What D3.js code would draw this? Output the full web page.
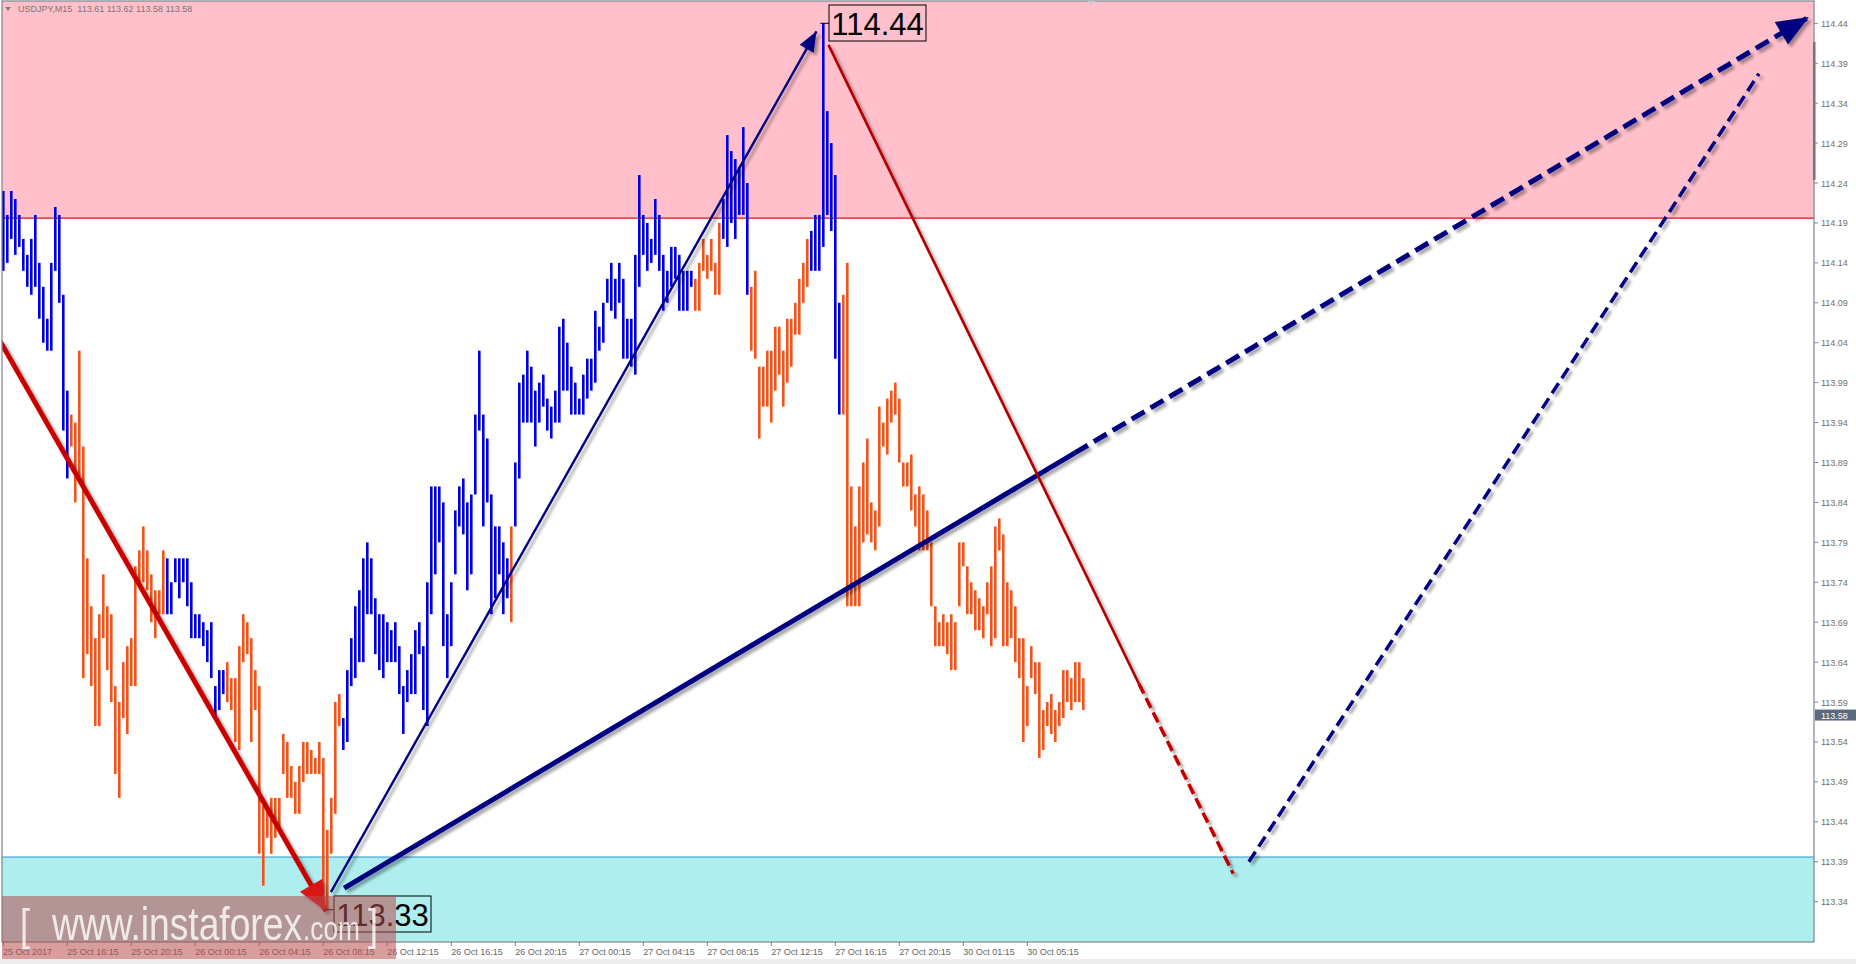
<!DOCTYPE html>
<html><head><meta charset="utf-8">
<script src="https://cdn.jsdelivr.net/npm/d3@7/dist/d3.min.js"></script>
<style>
html,body{margin:0;padding:0;background:#fff;overflow:hidden}
text{font-family:"Liberation Sans",Arial,sans-serif}
</style></head>
<body>
<svg id="c" width="1856" height="964"></svg>
<script>
// ---------- DATA ----------
const symbolTitle = "USDJPY,M15  113.61 113.62 113.58 113.58";
const highs = [
114.23,114.20,114.23,114.22,114.20,114.17,114.15,114.17,114.20,114.14,
114.11,114.07,114.14,114.21,114.20,114.10,113.98,113.95,113.94,114.03,
113.91,113.77,113.71,113.67,113.70,113.75,113.71,113.70,113.61,113.59,
113.64,113.66,113.67,113.76,113.78,113.81,113.78,113.75,113.73,113.73,
113.78,113.77,113.74,113.77,113.77,113.77,113.77,113.74,113.70,113.70,
113.69,113.68,113.69,113.61,113.63,113.63,113.64,113.62,113.62,113.66,
113.70,113.69,113.67,113.63,113.61,113.46,113.46,113.47,113.47,113.47,
113.55,113.54,113.51,113.49,113.51,113.54,113.54,113.53,113.52,113.54,
113.52,113.43,113.47,113.59,113.60,113.57,113.63,113.67,113.71,113.73,
113.77,113.79,113.77,113.72,113.70,113.70,113.69,113.68,113.69,113.66,
113.61,113.63,113.65,113.68,113.69,113.66,113.74,113.86,113.86,113.86,
113.84,113.70,113.74,113.83,113.86,113.87,113.84,113.85,113.95,114.03,
113.95,113.92,113.85,113.81,113.81,113.79,113.77,113.81,113.89,113.99,
114.00,114.03,114.01,113.98,113.99,114.00,113.97,113.96,113.98,114.06,
114.07,114.04,114.01,113.99,113.97,114.00,114.02,114.02,114.08,114.06,
114.09,114.12,114.14,114.12,114.14,114.12,114.07,114.07,114.15,114.25,
114.20,114.19,114.17,114.22,114.20,114.15,114.13,114.16,114.16,114.15,
114.13,114.13,114.13,114.12,114.14,114.17,114.15,114.17,114.14,114.19,
114.22,114.30,114.28,114.27,114.26,114.31,114.24,114.11,114.13,114.01,
114.01,114.03,114.03,114.06,114.06,114.03,114.07,114.07,114.09,114.12,
114.14,114.17,114.18,114.20,114.20,114.44,114.33,114.29,114.25,114.09,
114.10,114.14,113.86,113.81,113.86,113.89,113.92,113.84,113.83,113.96,
113.94,113.97,113.98,113.99,113.97,113.89,113.89,113.90,113.85,113.86,
113.85,113.83,113.79,113.71,113.69,113.70,113.69,113.70,113.69,113.79,
113.79,113.76,113.74,113.73,113.72,113.71,113.74,113.76,113.81,113.82,
113.80,113.74,113.73,113.71,113.67,113.67,113.61,113.66,113.64,113.64,
113.58,113.59,113.60,113.58,113.59,113.63,113.63,113.62,113.64,113.64,113.62];
const lows = [
114.13,114.14,114.17,114.15,114.16,114.13,114.11,114.10,114.11,114.07,
114.04,114.03,114.03,114.13,114.09,113.93,113.87,113.91,113.84,113.87,
113.62,113.65,113.61,113.56,113.56,113.67,113.63,113.59,113.50,113.47,
113.57,113.55,113.61,113.61,113.74,113.74,113.73,113.69,113.67,113.70,
113.70,113.70,113.70,113.74,113.72,113.74,113.71,113.67,113.67,113.67,
113.66,113.64,113.62,113.57,113.58,113.60,113.59,113.58,113.54,113.53,
113.64,113.65,113.54,113.58,113.40,113.36,113.42,113.40,113.42,113.43,
113.50,113.47,113.47,113.45,113.45,113.49,113.50,113.50,113.50,113.50,
113.35,113.33,113.40,113.45,113.56,113.53,113.54,113.61,113.62,113.64,
113.64,113.70,113.70,113.65,113.63,113.62,113.64,113.64,113.64,113.60,
113.55,113.59,113.60,113.60,113.65,113.58,113.56,113.70,113.75,113.79,
113.66,113.62,113.66,113.75,113.81,113.80,113.73,113.75,113.85,113.93,
113.81,113.84,113.70,113.72,113.75,113.70,113.72,113.69,113.81,113.87,
113.94,113.94,113.94,113.91,113.94,113.96,113.93,113.92,113.94,113.94,
113.98,113.98,113.95,113.95,113.95,113.95,113.97,113.98,113.99,114.03,
114.04,114.09,114.08,114.07,114.09,114.02,114.02,114.01,114.00,114.11,
114.15,114.13,114.14,114.15,114.13,114.08,114.09,114.11,114.12,114.08,
114.08,114.08,114.11,114.08,114.08,114.13,114.12,114.13,114.10,114.10,
114.17,114.16,114.19,114.17,114.20,114.20,114.10,114.03,114.02,113.92,
113.96,113.96,113.94,113.98,114.00,113.96,113.99,114.01,114.05,114.05,
114.09,114.11,114.13,114.13,114.13,114.16,114.20,114.18,114.02,113.95,
113.95,113.71,113.71,113.71,113.71,113.79,113.80,113.79,113.78,113.81,
113.91,113.90,113.94,113.95,113.89,113.86,113.86,113.83,113.81,113.78,
113.78,113.78,113.71,113.66,113.66,113.66,113.65,113.63,113.63,113.71,
113.76,113.70,113.70,113.68,113.68,113.67,113.70,113.66,113.67,113.78,
113.66,113.66,113.67,113.64,113.62,113.54,113.56,113.62,113.60,113.52,
113.53,113.56,113.55,113.54,113.56,113.57,113.59,113.58,113.59,113.59,113.58];
// colour runs: [first bar, last bar, kind]
const colorRuns = [[0,16,"up"],[17,40,"dn"],[41,55,"up"],[56,84,"dn"],[85,126,"up"],[127,127,"dn"],
  [128,172,"up"],[173,179,"dn"],[180,186,"up"],[187,201,"dn"],[202,209,"up"],[210,270,"dn"]];
const priceTicks = [114.44,114.39,114.34,114.29,114.24,114.19,114.14,114.09,114.04,113.99,113.94,113.89,
  113.84,113.79,113.74,113.69,113.64,113.59,113.54,113.49,113.44,113.39,113.34];
const timeLabels = ["25 Oct 2017","25 Oct 16:15","25 Oct 20:15","26 Oct 00:15","26 Oct 04:15","26 Oct 08:15",
  "26 Oct 12:15","26 Oct 16:15","26 Oct 20:15","27 Oct 00:15","27 Oct 04:15","27 Oct 08:15","27 Oct 12:15",
  "27 Oct 16:15","27 Oct 20:15","30 Oct 01:15","30 Oct 05:15"];
const timeLabelBars = [0,16,32,48,64,80,96,112,128,144,160,176,192,208,224,240,256];
const zoneHigh = [114.196, 114.60];   // resistance zone
const zoneLow  = [113.20, 113.396];   // support zone
const lastPrice = 113.58;
// wave lines: [bar index, price]
const waveDown1   = [[-0.8,114.042],[80.7,113.328]];
const waveUpThin  = [[81.9,113.352],[203.3,114.43]];
const waveUpThick = [[85.2,113.357],[267.9,113.902]];
const waveUpThickFuture = [[267.9,113.902],[451.4,114.448]];
const waveDownThin = [[206.3,114.413],[283.9,113.613]];
const waveDownFuture = [[283.9,113.613],[307.5,113.375]];
const waveUpFuture = [[311.4,113.39],[438.9,114.377]];
const peakLabel = {bar:205, price:114.44, text:"114.44"};
const troughLabel = {bar:81, price:113.33, text:"113.33"};

// ---------- SCALES ----------
const L = 2, R = 1814, T = 1, B = 942;
const x = d3.scaleLinear().domain([0, 1]).range([3.3, 7.3]);
const y = d3.scaleLinear().domain([113.34, 114.44]).range([901.7, 23.3]);
const colors = {up:"#0000e6", dn:"#f0541c"};

const svg = d3.select("#c");
const defs = svg.append("defs");
const f = defs.append("filter").attr("id","sh").attr("x","-20%").attr("y","-20%").attr("width","140%").attr("height","140%");
f.append("feDropShadow").attr("dx",3).attr("dy",3).attr("stdDeviation",1.6).attr("flood-color","#000").attr("flood-opacity",0.35);
defs.append("clipPath").attr("id","plot").append("rect").attr("x",L).attr("y",T).attr("width",R-L).attr("height",B-T);

svg.append("rect").attr("width",1856).attr("height",964).attr("fill","#fff");
svg.append("rect").attr("x",0).attr("y",959).attr("width",1856).attr("height",5).attr("fill","#ececec");

const plot = svg.append("g").attr("clip-path","url(#plot)");
// zones
plot.append("rect").attr("x",L).attr("width",R-L).attr("y",y(zoneHigh[1])).attr("height",y(zoneHigh[0])-y(zoneHigh[1])).attr("fill","#ffc0cb");
plot.append("line").attr("x1",L).attr("x2",R).attr("y1",y(zoneHigh[0])).attr("y2",y(zoneHigh[0])).attr("stroke","#e01010").attr("stroke-width",1.2);
plot.append("rect").attr("x",L).attr("width",R-L).attr("y",y(zoneLow[1])).attr("height",y(zoneLow[0])-y(zoneLow[1])).attr("fill","#afeeee");
plot.append("line").attr("x1",L).attr("x2",R).attr("y1",y(zoneLow[1])).attr("y2",y(zoneLow[1])).attr("stroke","#2f95d0").attr("stroke-width",1.2);

// bars
const bars = highs.map((h,i)=>{
  const run = colorRuns.find(r=>i>=r[0]&&i<=r[1]);
  return {i, h, l:lows[i], k: run?run[2]:"dn"};
});
plot.append("g").selectAll("rect").data(bars).join("rect")
  .attr("x",d=>x(d.i)-1.3).attr("width",2.6)
  .attr("y",d=>y(d.h)).attr("height",d=>Math.max(1,y(d.l)-y(d.h)))
  .attr("fill",d=>colors[d.k]);

// helpers
function P(p){return [x(p[0]), y(p[1])];}
function seg(g, pts, color, w, dash){
  const a=P(pts[0]), b=P(pts[1]);
  const ln = g.append("line").attr("x1",a[0]).attr("y1",a[1]).attr("x2",b[0]).attr("y2",b[1])
    .attr("stroke",color).attr("stroke-width",w);
  if(dash) ln.attr("stroke-dasharray",dash);
  return ln;
}
function head(g, pts, color, len, hw){
  const a=P(pts[0]), b=P(pts[1]);
  const dx=b[0]-a[0], dy=b[1]-a[1], d=Math.hypot(dx,dy), ux=dx/d, uy=dy/d;
  const bx=b[0]-ux*len, by=b[1]-uy*len;
  g.append("path").attr("d",`M${b[0]},${b[1]}L${bx-uy*hw},${by+ux*hw}L${bx+uy*hw},${by-ux*hw}Z`).attr("fill",color);
}
const ov = plot.append("g").attr("filter","url(#sh)");
seg(ov, waveDown1, "#c80000", 5);
head(ov, waveDown1, "#d81818", 30, 13);
seg(ov, waveUpThin, "#000080", 2.4);
head(ov, waveUpThin, "#000080", 20, 8);
seg(ov, waveUpThick, "#000080", 5);
seg(ov, waveUpThickFuture, "#000080", 5, "15,7");
head(ov, waveUpThickFuture, "#000080", 32, 13);
seg(ov, waveDownThin, "#b00000", 2.6);
seg(ov, waveDownFuture, "#c00000", 3.5, "11,5");
seg(ov, waveUpFuture, "#000080", 3.5, "12,6");

// peak / trough labels
function priceBox(lbl, bx, by){
  const py = y(lbl.price), px = x(lbl.bar);
  svg.append("line").attr("x1",px-3).attr("x2",bx).attr("y1",py).attr("y2",py).attr("stroke","#000").attr("stroke-width",1);
  svg.append("rect").attr("x",bx).attr("y",by).attr("width",97).attr("height",36).attr("fill","none").attr("stroke","#000").attr("stroke-width",1);
  svg.append("text").attr("x",bx+48.5).attr("y",by+30).attr("text-anchor","middle").attr("font-size",31).attr("fill","#000").text(lbl.text);
}
priceBox(peakLabel, 829, 5);
priceBox(troughLabel, 334, 896);

// frame
svg.append("rect").attr("x",L).attr("y",T).attr("width",R-L).attr("height",B-T).attr("fill","none").attr("stroke","#7b8590").attr("stroke-width",1.2);
svg.append("rect").attr("x",R-1).attr("y",42).attr("width",2.5).attr("height",138).attr("fill","#6c7682");
svg.append("path").attr("d",`M${x(271)},1L${x(271)+8},1L${x(271)+4},5Z`).attr("fill","#c8c8c8");

// y axis
const yAxis = svg.append("g");
priceTicks.forEach(p=>{
  yAxis.append("line").attr("x1",R).attr("x2",R+4).attr("y1",y(p)).attr("y2",y(p)).attr("stroke","#7b8590");
  yAxis.append("text").attr("x",R+7).attr("y",y(p)+3.5).attr("font-size",9).attr("fill","#707070").text(p.toFixed(2));
});
yAxis.append("rect").attr("x",R+1).attr("y",y(lastPrice)-0.5).attr("width",41).attr("height",11).attr("fill","#5a6a7c");
yAxis.append("text").attr("x",R+7).attr("y",y(lastPrice)+8.5).attr("font-size",9).attr("fill","#fff").text(lastPrice.toFixed(2));

// x axis
const xAxis = svg.append("g");
timeLabels.forEach((t,k)=>{
  const xx = x(timeLabelBars[k]);
  xAxis.append("line").attr("x1",xx).attr("x2",xx).attr("y1",B).attr("y2",B+4).attr("stroke","#7b8590");
  xAxis.append("text").attr("x",k===0?3:xx).attr("y",955).attr("font-size",9).attr("fill","#666").text(t);
});

// title
svg.append("path").attr("d","M5,7L11,7L8,11Z").attr("fill","#808080");
svg.append("text").attr("x",18).attr("y",12).attr("font-size",9).attr("fill","#777").attr("xml:space","preserve").text(symbolTitle);

// watermark
const wm = svg.append("g");
wm.append("rect").attr("x",2).attr("y",896).attr("width",394).attr("height",63).attr("fill","#b84c4c").attr("opacity",0.55);
const wmParts = [
  {t:"[", x:20, len:10, fs:44},
  {t:"www.instaforex", x:52, len:250, fs:46},
  {t:".com", x:303, len:57, fs:34},
  {t:"]", x:368, len:10, fs:44}
];
wmParts.forEach(p=>{
  wm.append("text").attr("x",p.x).attr("y",940).attr("font-size",p.fs)
    .attr("textLength",p.len).attr("lengthAdjust","spacingAndGlyphs")
    .attr("fill","#ffffff").attr("opacity",0.8).attr("font-family","'Open Sans',sans-serif").text(p.t);
});
</script>
</body></html>
